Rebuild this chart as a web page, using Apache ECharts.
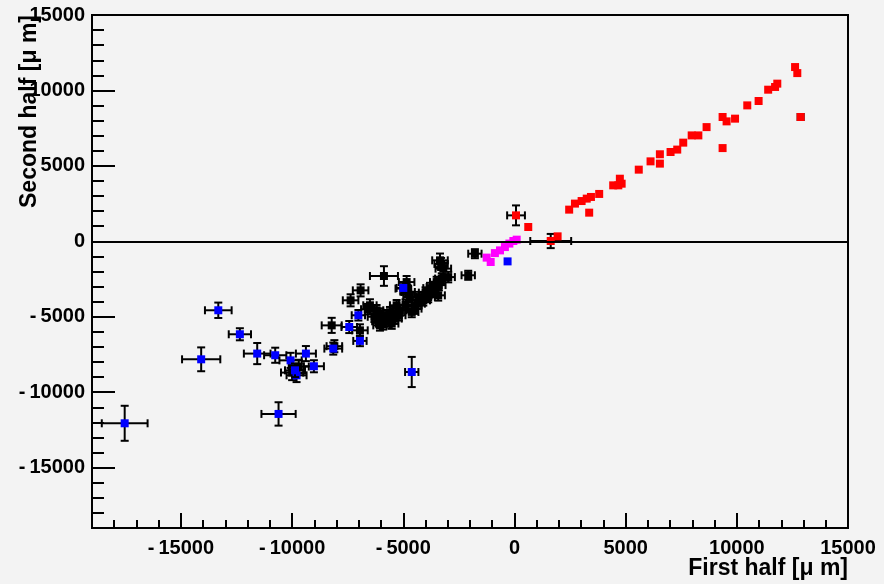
<!DOCTYPE html>
<html>
<head>
<meta charset="utf-8">
<script src="https://cdn.jsdelivr.net/npm/echarts@6/dist/echarts.min.js"></script>
<style>
html,body{margin:0;padding:0;background:#f3f3f3;}
#chart{width:884px;height:584px;}
</style>
</head>
<body>
<div id="chart"></div>
<script>
// [x, y, xError, yError] in micrometres
const blackPts = [
  [-5870,-2300,630,650], [-6920,-3250,350,400], [-7370,-3910,350,400], [-5000,-3130,350,400],
  [-6500,-4240,300,400], [-6200,-4570,300,350], [-6050,-4790,300,350], [-5970,-5240,300,350],
  [-6050,-5570,300,350], [-5300,-4240,300,350], [-5150,-4570,300,350], [-5370,-5120,300,350],
  [-5520,-5450,300,350], [-4700,-3690,300,350], [-4480,-4240,300,350], [-8220,-5570,450,500],
  [-6950,-5900,350,400], [-3350,-1260,350,450], [-3200,-1810,350,400], [-3270,-2470,300,350],
  [-2980,-2370,300,350], [-1780,-820,300,300], [-2080,-2250,300,300], [-3500,-2700,300,350],
  [-3650,-3030,300,350], [-3720,-3360,300,350], [-3430,-3580,300,350], [-3880,-3690,300,350],
  [-4100,-3910,300,350], [-4330,-4130,300,350], [-4480,-4460,300,350], [-4620,-4680,300,350],
  [-4780,-3360,300,350], [-4850,-2700,350,400], [-8100,-6950,350,400], [-5700,-4900,300,350],
  [-5750,-5300,300,350], [-5450,-4800,300,350], [-4900,-4200,300,350], [-4300,-3700,300,350],
  [-3800,-3100,300,350], [-6300,-5000,300,350], [-6600,-4500,300,350], [-5900,-5500,300,350],
  [-4000,-3400,300,350], [-3300,-1500,300,400], [-3400,-2900,300,350], [-5800,-5100,300,350],
  [-5600,-4700,300,350], [-6100,-5300,300,350], [-5200,-4900,300,350], [-10000,-8700,500,500],
  [-9700,-8300,450,450], [12870,8240,0,0]
];
const bluePts = [
  [-13320,-4570,600,510], [-12350,-6160,500,400], [-14090,-7820,860,790], [-11570,-7440,600,700],
  [-10760,-7550,500,500], [-10070,-7890,500,500], [-9380,-7440,450,500], [-9020,-8280,450,400],
  [-9800,-8880,450,450], [-9870,-8550,450,450], [-10610,-11440,770,775], [-17530,-12060,1030,1160],
  [-4620,-8660,300,1000], [-7020,-4900,300,350], [-6950,-6600,300,350], [-7430,-5680,350,400],
  [-8150,-7110,400,400], [-5000,-3090,300,350], [-310,-1330,0,0]
];
const magentaPts = [
  [-1250,-1080,0,0], [-1070,-1370,0,0], [-880,-780,0,0], [-650,-600,0,0],
  [-430,-380,0,0], [-230,-150,0,0], [-50,20,0,0], [100,110,0,0]
];
const redPts = [
  [70,1720,400,660], [620,950,0,0], [1630,20,920,470], [1940,330,0,0],
  [2460,2100,0,0], [2720,2500,0,0], [3020,2670,0,0], [3250,2830,0,0],
  [3440,2940,0,0], [3360,1900,0,0], [3810,3140,0,0], [4440,3710,0,0],
  [4740,4150,0,0], [4820,3820,0,0], [4670,3710,0,0], [5590,4750,0,0],
  [6120,5300,0,0], [6540,5770,0,0], [6540,5150,0,0], [7020,5920,0,0],
  [7320,6080,0,0], [7590,6540,0,0], [7970,7020,0,0], [8270,7020,0,0],
  [8640,7570,0,0], [9360,8240,0,0], [9540,7950,0,0], [9920,8130,0,0],
  [9360,6180,0,0], [10470,9010,0,0], [10980,9300,0,0], [11410,10050,0,0],
  [11720,10230,0,0], [11820,10450,0,0], [12620,11550,0,0], [12720,11150,0,0],
  [12870,8240,0,0]
];
const axisMin = -19000, axisMax = 15000;
const majorStep = 5000, minorStep = 1000;
const xTitle = 'First half [\u03bc m]';
const yTitle = 'Second half [\u03bc m]';

const FONT = "'Liberation Sans', Arial, Helvetica, sans-serif";

function makeRender(color) {
  return function (params, api) {
    const x = api.value(0), y = api.value(1), ex = api.value(2), ey = api.value(3);
    const c = api.coord([x, y]);
    const ls = { stroke: '#000', lineWidth: 2 };
    const kids = [];
    const cap = 4;
    if (ex > 0) {
      const l = api.coord([x - ex, y]), r = api.coord([x + ex, y]);
      kids.push({ type: 'line', shape: { x1: l[0], y1: c[1], x2: r[0], y2: c[1] }, style: ls });
      kids.push({ type: 'line', shape: { x1: l[0], y1: c[1] - cap, x2: l[0], y2: c[1] + cap }, style: ls });
      kids.push({ type: 'line', shape: { x1: r[0], y1: c[1] - cap, x2: r[0], y2: c[1] + cap }, style: ls });
    }
    if (ey > 0) {
      const t = api.coord([x, y + ey]), b = api.coord([x, y - ey]);
      kids.push({ type: 'line', shape: { x1: c[0], y1: t[1], x2: c[0], y2: b[1] }, style: ls });
      kids.push({ type: 'line', shape: { x1: c[0] - cap, y1: t[1], x2: c[0] + cap, y2: t[1] }, style: ls });
      kids.push({ type: 'line', shape: { x1: c[0] - cap, y1: b[1], x2: c[0] + cap, y2: b[1] }, style: ls });
    }
    kids.push({ type: 'rect', shape: { x: c[0] - 4, y: c[1] - 4, width: 8, height: 8 }, style: { fill: color } });
    return { type: 'group', children: kids };
  };
}

const labelFmt = v => {
  if (v % majorStep !== 0) return '';
  return v < 0 ? '{m|-}' + String(-v) : String(v);
};
const labelStyle = { color: '#000', fontFamily: FONT, fontWeight: 'bold', fontSize: 20 };
const labelRich = { m: { color: '#000', fontFamily: FONT, fontWeight: 'bold', fontSize: 20, padding: [0, 4, 0, 0] } };
const titleStyle = { color: '#000', fontFamily: FONT, fontWeight: 'bold', fontSize: 23 };

const chart = echarts.init(document.getElementById('chart'), null, { renderer: 'canvas' });
chart.setOption({
  backgroundColor: '#f3f3f3',
  animation: false,
  grid: [
    { left: 92, right: 36, top: 15, bottom: 56, show: true, backgroundColor: '#f3f3f3', borderColor: '#000', borderWidth: 2, containLabel: false, outerBoundsMode: 'none' },
    { left: 92, right: 36, top: 15, bottom: 56, show: false, containLabel: false, outerBoundsMode: 'none' }
  ],
  xAxis: [
    {
      type: 'value', gridIndex: 0, min: axisMin, max: axisMax, splitNumber: 7,
      position: 'bottom',
      axisLine: { onZero: false, lineStyle: { color: '#000', width: 2 } },
      axisTick: { inside: true, length: 15, lineStyle: { color: '#000', width: 2 } },
      axisLabel: { formatter: labelFmt, margin: 10, rich: labelRich, ...labelStyle },
      splitLine: { show: false },
      name: xTitle, nameLocation: 'end', nameGap: 0, nameMoveOverlap: false,
      nameTextStyle: { ...titleStyle, align: 'right', verticalAlign: 'top', padding: [29, 0, 0, 0] }
    },
    {
      type: 'value', gridIndex: 1, min: axisMin, max: axisMax, interval: minorStep,
      position: 'bottom',
      axisLine: { show: false, onZero: false },
      axisTick: { inside: true, length: 8, lineStyle: { color: '#000', width: 2 } },
      axisLabel: { show: false },
      splitLine: { show: false }
    }
  ],
  yAxis: [
    {
      type: 'value', gridIndex: 0, min: axisMin, max: axisMax, splitNumber: 7,
      position: 'left',
      axisLine: { onZero: false, lineStyle: { color: '#000', width: 2 } },
      axisTick: { inside: true, length: 23, lineStyle: { color: '#000', width: 2 } },
      axisLabel: { formatter: labelFmt, margin: 7, rich: labelRich, ...labelStyle },
      splitLine: { show: false },
      name: yTitle, nameLocation: 'end', nameGap: 0, nameRotate: 90, nameMoveOverlap: false,
      nameTextStyle: { ...titleStyle, align: 'right', verticalAlign: 'bottom', padding: [0, 0, 51, 0] }
    },
    {
      type: 'value', gridIndex: 1, min: axisMin, max: axisMax, interval: minorStep,
      position: 'left',
      axisLine: { show: false, onZero: false },
      axisTick: { inside: true, length: 12, lineStyle: { color: '#000', width: 2 } },
      axisLabel: { show: false },
      splitLine: { show: false }
    }
  ],
  series: [
    {
      name: 'black', type: 'custom', xAxisIndex: 0, yAxisIndex: 0,
      data: blackPts, renderItem: makeRender('#000000'),
      markLine: {
        silent: true, symbol: 'none', label: { show: false },
        lineStyle: { color: '#000', width: 2, type: 'solid' },
        data: [{ yAxis: 0 }]
      }
    },
    { name: 'blue', type: 'custom', xAxisIndex: 0, yAxisIndex: 0, data: bluePts, renderItem: makeRender('#0000ff') },
    { name: 'magenta', type: 'custom', xAxisIndex: 0, yAxisIndex: 0, data: magentaPts, renderItem: makeRender('#ff00ff') },
    { name: 'red', type: 'custom', xAxisIndex: 0, yAxisIndex: 0, data: redPts, renderItem: makeRender('#ff0000') }
  ]
});
</script>
</body>
</html>
